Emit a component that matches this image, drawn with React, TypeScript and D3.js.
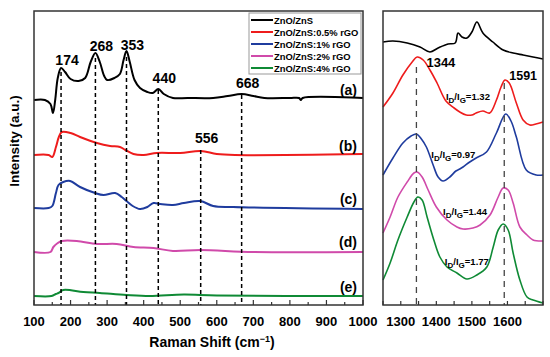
import React from "react";
import * as d3 from "d3";

const seriesNames = ["ZnO/ZnS", "ZnO/ZnS:0.5% rGO", "ZnO/ZnS:1% rGO", "ZnO/ZnS:2% rGO", "ZnO/ZnS:4% rGO"];
const seriesColors = ["#000000", "#ee1c1c", "#1f3c9e", "#d04aaa", "#0f8a35"];
const curveTags = ["(a)", "(b)", "(c)", "(d)", "(e)"];

// Left panel: Raman shift 100-1000
const leftA: [number, number][] = [[100,205],[130,205],[145,201],[152,192],[158,205],[165,227],[174,237],[185,233],[200,226],[222,224],[240,227],[255,243],[268,252],[280,243],[292,229],[300,225],[320,227],[335,231],[345,245],[353,254],[362,243],[375,225],[390,217],[410,213],[425,212],[440,216],[455,211],[480,207],[520,207],[590,207],[630,209],[668,211],[700,209],[730,207],[800,207],[825,207],[830,205],[835,207],[1000,207]];
const leftB: [number, number][] = [[100,150],[140,150],[150,148],[160,158],[168,168],[176,173],[200,172],[226,168],[272,162],[308,159],[335,158],[350,155],[372,151],[400,150],[436,152],[500,152],[556,154],[600,151],[650,150],[1000,151]];
const leftC: [number, number][] = [[100,97],[140,97],[150,99],[160,112],[167,120],[180,123],[199,124],[226,118],[267,112],[290,110],[322,112],[340,108],[353,104],[370,99],[390,96],[410,98],[427,102],[445,101],[480,100],[510,102],[555,104],[590,99],[645,98],[1000,96]];
const leftD: [number, number][] = [[100,53],[145,53],[153,58],[165,62],[176,64],[217,64],[272,61],[326,61],[372,58],[427,57],[480,54],[555,55],[700,53],[1000,53]];
const leftE: [number, number][] = [[100,9],[148,9],[160,11],[167,12],[180,15],[235,13],[280,12],[353,10],[417,9],[510,10.5],[600,9.5],[1000,9]];
const leftSeries = [leftA, leftB, leftC, leftD, leftE];

// Right panel: D and G bands 1250-1700
const rightA: [number, number][] = [[1250,263],[1278,264],[1318,262],[1354,258],[1382,253],[1405,257],[1433,261],[1453,262],[1461,272],[1472,268],[1486,267],[1500,273],[1514,283],[1531,272],[1559,263],[1588,255],[1616,252],[1644,250],[1672,248],[1700,246]];
const rightB: [number, number][] = [[1250,198],[1278,212],[1306,230],[1332,243],[1346,248],[1363,245],[1382,235],[1402,222],[1427,204],[1450,197],[1466,193],[1484,190],[1500,190],[1512,192],[1531,194],[1550,192],[1569,205],[1582,218],[1593,225],[1605,222],[1625,202],[1644,185],[1663,180],[1680,181],[1700,183]];
const rightC: [number, number][] = [[1250,130],[1278,147],[1306,162],[1329,169],[1344,171],[1358,166],[1372,158],[1391,140],[1405,128],[1419,124],[1438,128],[1455,134],[1466,136],[1475,138],[1494,143],[1512,147],[1541,153],[1569,172],[1595,191],[1610,184],[1625,168],[1653,135],[1681,130],[1700,130]];
const rightD: [number, number][] = [[1250,72],[1270,88],[1292,108],[1318,123],[1337,132],[1346,133],[1360,128],[1377,115],[1400,98],[1430,85],[1458,78],[1475,76],[1503,77],[1523,80],[1551,90],[1574,108],[1588,117],[1602,115],[1616,102],[1635,78],[1655,70],[1672,65],[1700,64]];
const rightE: [number, number][] = [[1250,25],[1270,42],[1292,65],[1318,88],[1337,103],[1348,108],[1360,105],[1374,88],[1393,65],[1410,48],[1430,38],[1458,32],[1486,26],[1514,30],[1542,38],[1560,58],[1574,75],[1588,81],[1602,75],[1616,52],[1635,25],[1655,8],[1672,5],[1700,2]];
const rightSeries = [rightA, rightB, rightC, rightD, rightE];

// Peak markers: [position, top of dashed line (intensity), label]
const leftPeaks: [number, number, string][] = [[174, 233, "174"], [268, 247, "268"], [353, 248, "353"], [440, 215, "440"], [556, 155, "556"], [668, 210, "668"]];
const rightPeaks: [number, number, string][] = [[1344, 238, "1344"], [1591, 222, "1591"]];
const ratioLabels = ["1.32", "0.97", "1.44", "1.77"];
const ratioPos: [number, number][] = [[1427, 205], [1386, 147], [1419, 90], [1424, 40]];

const leftTicks = [100, 200, 300, 400, 500, 600, 700, 800, 900, 1000];
const rightTicks = [1300, 1400, 1500, 1600];

export default function App() {
  const W = 550, H = 357;
  const top = 11, bottom = 305;
  const y = d3.scaleLinear().domain([0, 294]).range([bottom, top]);
  const xL = d3.scaleLinear().domain([100, 1000]).range([34, 363]);
  const xR = d3.scaleLinear().domain([1250, 1700]).range([383, 543]);
  const lineL = d3.line<[number, number]>().x(d => xL(d[0])).y(d => y(d[1])).curve(d3.curveCatmullRom.alpha(0.5));
  const lineR = d3.line<[number, number]>().x(d => xR(d[0])).y(d => y(d[1])).curve(d3.curveCatmullRom.alpha(0.5));
  const font = "Arial, 'Liberation Sans', Helvetica, sans-serif";
  const minorL = d3.range(150, 1000, 100);
  const minorR = d3.range(1250, 1701, 50);

  return (
    <svg width={W} height={H} style={{ position: "absolute", left: 0, top: 0, background: "#fff" }} fontFamily={font}>
      {leftSeries.map((s, i) => (
        <path key={"l" + i} d={lineL(s) || ""} fill="none" stroke={seriesColors[i]} strokeWidth={2} />
      ))}
      {leftPeaks.map((p, i) => (
        <line key={"ld" + i} x1={xL(p[0])} x2={xL(p[0])} y1={y(p[1])} y2={bottom} stroke="#000" strokeWidth={1.5} strokeDasharray="4,3" />
      ))}
      {leftPeaks.map((p, i) => (
        <text key={"lt" + i} x={xL(p[0]) + 6} y={y(p[1]) - 7} fontSize={14} fontWeight="bold" textAnchor="middle">{p[2]}</text>
      ))}
      {curveTags.map((t, i) => (
        <text key={"tag" + i} x={357} y={[95, 151, 204, 247, 292][i]} fontSize={14} fontWeight="bold" textAnchor="end">{t}</text>
      ))}
      <rect x={xL(100)} y={top} width={xL(1000) - xL(100)} height={bottom - top} fill="none" stroke="#333" strokeWidth={1.5} />
      {leftTicks.map(t => (
        <g key={"lxt" + t}>
          <line x1={xL(t)} x2={xL(t)} y1={bottom} y2={bottom - 5} stroke="#333" strokeWidth={1.2} />
          <text x={xL(t)} y={326} fontSize={13} fontWeight="bold" textAnchor="middle">{t}</text>
        </g>
      ))}
      {minorL.map(t => (
        <line key={"lm" + t} x1={xL(t)} x2={xL(t)} y1={bottom} y2={bottom - 3} stroke="#333" strokeWidth={1.2} />
      ))}
      <rect x={249} y={13} width={112} height={61} fill="#fff" stroke="#999" strokeWidth={1} />
      {seriesNames.map((n, i) => (
        <g key={"lg" + i}>
          <line x1={251} x2={273} y1={20 + i * 12} y2={20 + i * 12} stroke={seriesColors[i]} strokeWidth={2} />
          <text x={274} y={23.5 + i * 12} fontSize={9.4} fontWeight="bold">{n}</text>
        </g>
      ))}
      <text x={212} y={347} fontSize={14} fontWeight="bold" textAnchor="middle">
        Raman Shift (cm<tspan dy={-5} fontSize={9}>−1</tspan><tspan dy={5}>)</tspan>
      </text>
      <text transform="translate(19,141) rotate(-90)" fontSize={13.5} fontWeight="bold" textAnchor="middle">Intensity (a.u.)</text>

      {rightSeries.map((s, i) => (
        <path key={"r" + i} d={lineR(s) || ""} fill="none" stroke={seriesColors[i]} strokeWidth={1.6} />
      ))}
      {rightPeaks.map((p, i) => (
        <line key={"rd" + i} x1={xR(p[0])} x2={xR(p[0])} y1={y(p[1])} y2={bottom} stroke="#444" strokeWidth={1.3} strokeDasharray="6,5" />
      ))}
      <text x={xR(1344) + 10} y={67} fontSize={13} fontWeight="bold">1344</text>
      <text x={xR(1591) + 5} y={80} fontSize={12.5} fontWeight="bold">1591</text>
      {ratioLabels.map((r, i) => (
        <text key={"rt" + i} x={xR(ratioPos[i][0])} y={y(ratioPos[i][1])} fontSize={9.5} fontWeight="bold">
          I<tspan dy={3} fontSize={8}>D</tspan><tspan dy={-3}>/I</tspan><tspan dy={3} fontSize={8}>G</tspan><tspan dy={-3}>={r}</tspan>
        </text>
      ))}
      <rect x={xR(1250)} y={top} width={xR(1700) - xR(1250)} height={bottom - top} fill="none" stroke="#333" strokeWidth={1.5} />
      {minorR.map(t => (
        <line key={"rm" + t} x1={xR(t)} x2={xR(t)} y1={bottom} y2={bottom - 4} stroke="#333" strokeWidth={1.2} />
      ))}
      {rightTicks.map(t => (
        <text key={"rxt" + t} x={xR(t)} y={326} fontSize={13} fontWeight="bold" textAnchor="middle">{t}</text>
      ))}
    </svg>
  );
}
